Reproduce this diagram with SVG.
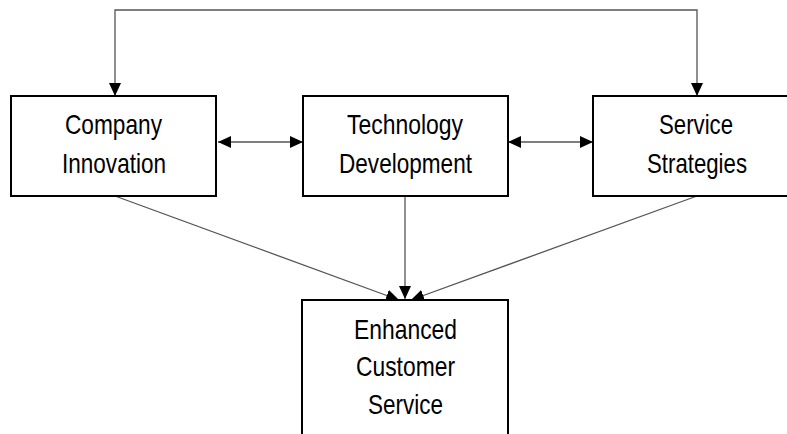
<svg xmlns="http://www.w3.org/2000/svg" width="787" height="434" viewBox="0 0 787 434">
<style>
.box{fill:#fff;stroke:#000;stroke-width:2}
.lbl{font-family:"Liberation Sans",Arial,sans-serif;font-size:28px;fill:#000;text-anchor:middle}
.con{fill:none;stroke:#555;stroke-width:1.3}
</style>
<defs>
<marker id="ah" viewBox="0 0 13 12" refX="13" refY="6" markerWidth="13" markerHeight="12" markerUnits="userSpaceOnUse" orient="auto-start-reverse">
<path d="M0,0 L13,6 L0,12 Z" fill="#000"/>
</marker>
</defs>
<rect width="787" height="434" fill="#fff"/>
<g id="connectors">
<path class="con" d="M115,96 V10 H697 V96" marker-start="url(#ah)" marker-end="url(#ah)"/>
<line class="con" x1="218" y1="142" x2="303" y2="142" marker-start="url(#ah)" marker-end="url(#ah)"/>
<line class="con" x1="508" y1="142" x2="593" y2="142" marker-start="url(#ah)" marker-end="url(#ah)"/>
<line class="con" x1="405" y1="196" x2="405" y2="299" marker-end="url(#ah)"/>
<line class="con" x1="115" y1="196" x2="399" y2="300" marker-end="url(#ah)"/>
<line class="con" x1="697" y1="196" x2="411" y2="300" marker-end="url(#ah)"/>
</g>
<g id="company-innovation">
<rect class="box" x="11" y="96" width="205" height="100"/>
<text class="lbl" x="113.5" y="134" textLength="97" lengthAdjust="spacingAndGlyphs">Company</text>
<text class="lbl" x="114" y="173" textLength="104" lengthAdjust="spacingAndGlyphs">Innovation</text>
</g>
<g id="technology-development">
<rect class="box" x="303" y="96" width="205" height="100"/>
<text class="lbl" x="405" y="134" textLength="116" lengthAdjust="spacingAndGlyphs">Technology</text>
<text class="lbl" x="405.5" y="173" textLength="133" lengthAdjust="spacingAndGlyphs">Development</text>
</g>
<g id="service-strategies">
<rect class="box" x="593" y="96" width="208" height="100"/>
<text class="lbl" x="696" y="134" textLength="74" lengthAdjust="spacingAndGlyphs">Service</text>
<text class="lbl" x="697" y="173" textLength="100" lengthAdjust="spacingAndGlyphs">Strategies</text>
</g>
<g id="enhanced-customer-service">
<rect class="box" x="302" y="300" width="206" height="150"/>
<text class="lbl" x="405.5" y="339" textLength="103" lengthAdjust="spacingAndGlyphs">Enhanced</text>
<text class="lbl" x="405.5" y="376" textLength="99" lengthAdjust="spacingAndGlyphs">Customer</text>
<text class="lbl" x="405.5" y="414" textLength="75" lengthAdjust="spacingAndGlyphs">Service</text>
</g>
</svg>
